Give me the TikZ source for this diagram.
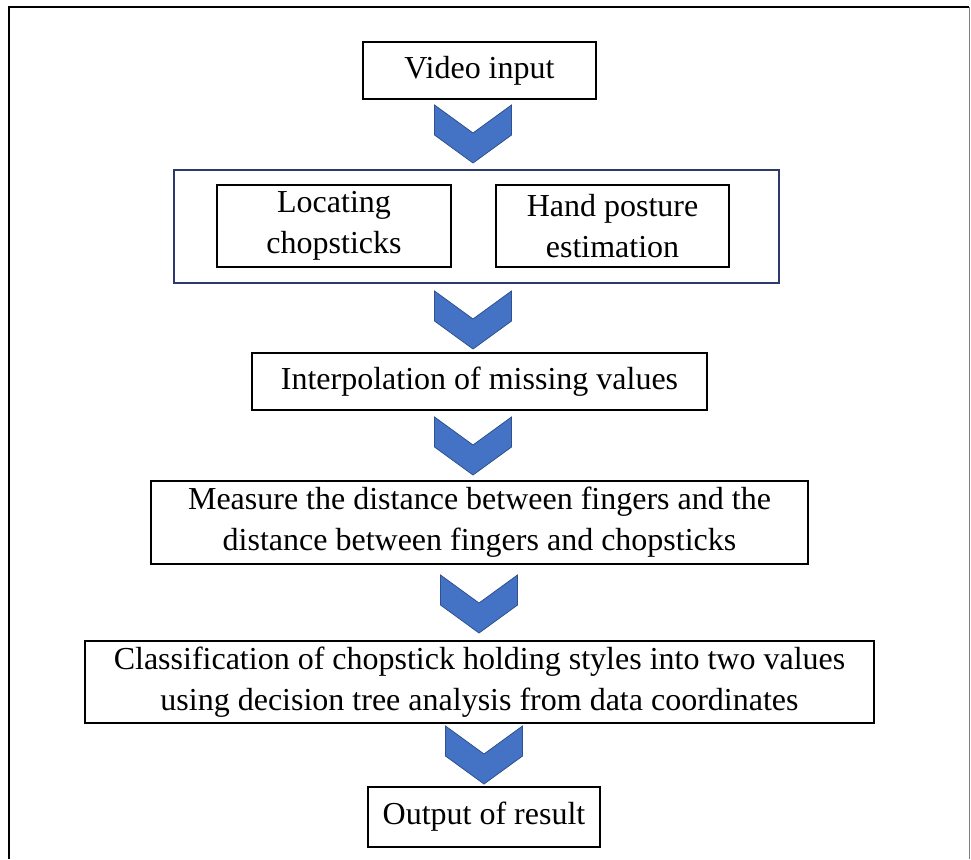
\documentclass[tikz,border=0pt]{standalone}
\usepackage{fontspec}
\setmainfont{Liberation Serif}

\definecolor{chevfill}{HTML}{4472C4}
\definecolor{chevedge}{HTML}{2F528F}
\definecolor{groupedge}{HTML}{2E3A6E}
\tikzset{chevron/.pic={\filldraw[fill=chevfill,draw=chevedge,line width=0.8pt] (-38.5,0) -- (0,28) -- (38.5,0) -- (38.5,30) -- (0,58) -- (-38.5,30) -- cycle;}}

\begin{document}
\begin{tikzpicture}[x=1pt,y=-1pt,every node/.style = {draw, line width=1.4pt, align=center, shape=rectangle, inner sep=0pt, font=\fontsize{32}{41}\selectfont}]
\useasboundingbox (0,0) rectangle (971,859);
\draw[line width=1.8pt] (9,859) -- (9,7) -- (969,7);
\draw[gray, line width=1pt] (969,7) -- (969,859);
\node[minimum width=233pt, minimum height=57pt] (video) at (479.5,70.5) {Video input};
\node[draw=groupedge, minimum width=605pt, minimum height=113pt] (group) at (476.5,226.5) {};
\node[minimum width=234pt, minimum height=82pt] (locate) at (334,226) {Locating\\chopsticks};
\node[minimum width=233pt, minimum height=82pt] (hand) at (612.5,226) {Hand posture\\estimation};
\node[minimum width=455pt, minimum height=57pt] (interp) at (479.5,381.5) {Interpolation of missing values};
\node[minimum width=657pt, minimum height=83pt] (measure) at (479.5,522.5) {Measure the distance between fingers and the\\distance between fingers and chopsticks};
\node[minimum width=789pt, minimum height=82pt] (classify) at (479.5,682) {Classification of chopstick holding styles into two values\\using decision tree analysis from data coordinates};
\node[minimum width=232pt, minimum height=60pt] (output) at (484,817) {Output of result};
% block arrows between the steps
\coordinate (c1) at (473,105);
\coordinate (c2) at (473,291);
\coordinate (c3) at (473,417);
\coordinate (c4) at (479,575);
\coordinate (c5) at (484,726);
\foreach \c in {c1,c2,c3,c4,c5} \pic at (\c) {chevron};
\end{tikzpicture}
\end{document}
